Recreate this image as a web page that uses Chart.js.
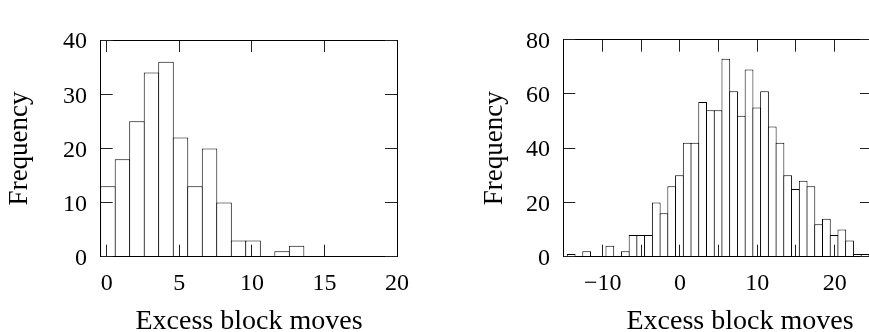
<!DOCTYPE html>
<html>
<head>
<meta charset="utf-8">
<script src="https://cdn.jsdelivr.net/npm/chart.js@4/dist/chart.umd.min.js"></script>
<style>
html,body{margin:0;padding:0;background:#fff;overflow:hidden;width:869px;height:332px;position:relative}
canvas{position:absolute;top:0}
#c1{left:0}
#c2{left:440px}
</style>
</head>
<body>
<canvas id="c1" width="498" height="340"></canvas>
<canvas id="c2" width="600" height="340"></canvas>
<script>
// ---- data ----
const xTitle = 'Excess block moves';
const yTitle = 'Frequency';

// left histogram (bin centres, counts)
const leftBinCenters = [0.08, 1.08, 2.08, 3.08, 4.08, 5.08, 6.08, 7.08, 8.08, 9.08, 10.08, 11.08, 12.08, 13.08];
const leftCounts     = [13, 18, 25, 34, 36, 22, 13, 20, 10, 3, 3, 0, 1, 2];
const leftXTicks = [0, 5, 10, 15, 20];
const leftYTicks = [0, 10, 20, 30, 40];

// right histogram (bin centres, counts)
const rightBinCenters = [-14.07, -13.07, -12.07, -11.07, -10.07, -9.07, -8.07, -7.07, -6.07, -5.07,
  -4.07, -3.07, -2.07, -1.07, -0.07, 0.93, 1.93, 2.93, 3.93, 4.93,
  5.93, 6.93, 7.93, 8.93, 9.93, 10.93, 11.93, 12.93, 13.93, 14.93,
  15.93, 16.93, 17.93, 18.93, 19.93, 20.93, 21.93, 22.93, 23.93];
const rightCounts = [1, 0, 2, 0, 0, 4, 0, 2, 8, 8,
  8, 20, 16, 26, 30, 42, 42, 57, 54, 54,
  73, 61, 52, 69, 55, 61, 48, 42, 30, 25,
  28, 26, 12, 14, 8, 10, 6, 1, 1];
const rightXTicks = [-10, -5, 0, 5, 10, 15, 20];
const rightXLabels = [-10, 0, 10, 20];
const rightYTicks = [0, 20, 40, 60, 80];

// ---- rendering ----
Chart.defaults.font.family = "'Liberation Serif', 'Times New Roman', serif";
Chart.defaults.color = '#000';

const fmt = v => (v < 0 ? '\u2212' + Math.abs(v) : String(v));

function makeChart(id, o) {
  const tickFont = {family: "'Liberation Serif', serif", size: 24};
  const grid = {display: true, drawOnChartArea: false, drawTicks: true, tickLength: -12,
                color: '#222', lineWidth: 1, offset: false, z: 1};
  const border = {display: true, color: '#000', width: 1, z: 1};
  const setTicks = vals => s => { s.ticks = vals.map(v => ({value: v})); };
  return new Chart(document.getElementById(id), {
    type: 'bar',
    data: {
      datasets: [{
        data: o.bins.map((b, i) => ({x: b, y: o.counts[i]})),
        backgroundColor: '#fff',
        borderColor: '#000',
        borderWidth: 1,
        borderSkipped: 'start',
        barPercentage: o.barPct,
        categoryPercentage: 1,
        inflateAmount: 0
      }]
    },
    options: {
      responsive: false,
      animation: false,
      devicePixelRatio: 1,
      layout: {padding: {top: 20.7, right: 0, bottom: 0, left: 0}},
      plugins: {
        legend: {display: false},
        tooltip: {enabled: false},
        title: {
          display: true, position: 'bottom', align: 'center', text: xTitle,
          font: {family: "'Liberation Serif', serif", size: 28, weight: 'normal', lineHeight: 1.2},
          color: '#000', padding: {top: 0, bottom: 1.7}
        }
      },
      scales: {
        x: {
          type: 'linear', position: 'bottom', min: o.xMin, max: o.xMax, offset: false,
          grid, border,
          ticks: {font: tickFont, color: '#000', padding: 24.7, autoSkip: false, maxRotation: 0,
                  minRotation: 0, includeBounds: false, callback: o.xLabel},
          afterBuildTicks: setTicks(o.xTicks),
          afterFit: s => { s.height = 48.0; }
        },
        x2: {
          type: 'linear', position: 'top', min: o.xMin, max: o.xMax, offset: false,
          grid, border,
          ticks: {display: false},
          afterBuildTicks: setTicks(o.xTicks),
          afterFit: s => { s.height = 0; }
        },
        y: {
          type: 'linear', position: 'left', min: 0, max: o.yMax,
          grid, border,
          ticks: {font: tickFont, color: '#000', padding: o.yPad, labelOffset: 2, autoSkip: false},
          afterBuildTicks: setTicks(o.yTicks),
          afterFit: s => { s.width = o.yW; },
          title: {display: true, text: yTitle,
                  font: {family: "'Liberation Serif', serif", size: 27, lineHeight: 1.2},
                  color: '#000', padding: {top: o.yTitlePad, bottom: 0}}
        },
        y2: {
          type: 'linear', position: 'right', min: 0, max: o.yMax,
          grid, border,
          ticks: {display: false},
          afterBuildTicks: setTicks(o.yTicks),
          afterFit: s => { s.width = o.y2W; }
        }
      }
    }
  });
}

makeChart('c1', {
  bins: leftBinCenters, counts: leftCounts,
  xMin: -0.42, xMax: 20, yMax: 40,
  xTicks: leftXTicks, yTicks: leftYTicks,
  xLabel: v => fmt(v),
  barPct: 15.51 / 14.51,
  yW: 100.7, y2W: 101, yPad: 25.7, yTitlePad: 3.9
});

makeChart('c2', {
  bins: rightBinCenters, counts: rightCounts,
  xMin: -15.09, xMax: 24.83, yMax: 80,
  xTicks: rightXTicks, yTicks: rightYTicks,
  xLabel: v => (rightXLabels.includes(v) ? fmt(v) : ''),
  barPct: 8.737 / 7.737,
  yW: 123.3, y2W: 168, yPad: 25.3, yTitlePad: 38.9
});
</script>
</body>
</html>
